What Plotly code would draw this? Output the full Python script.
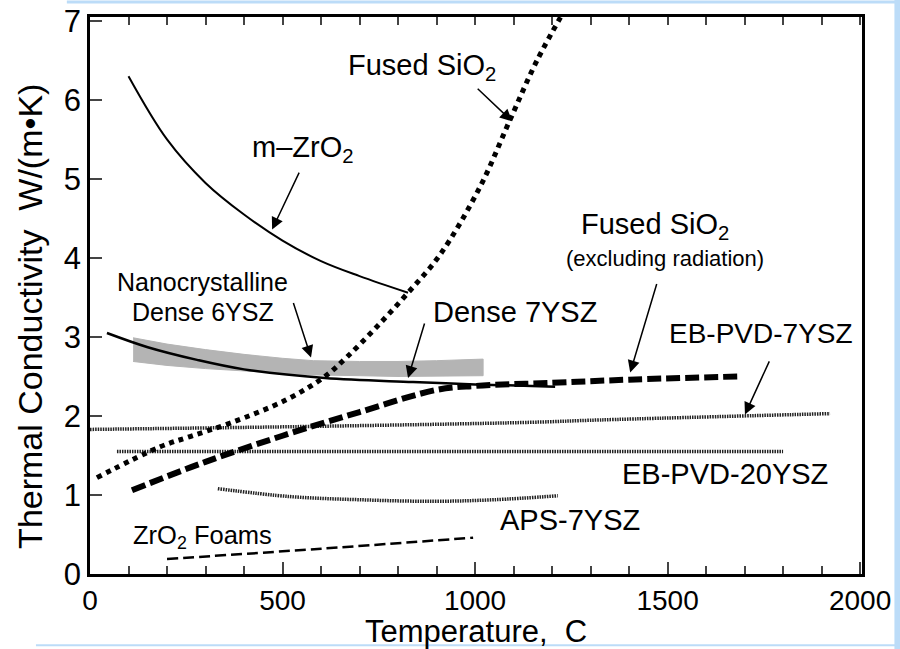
import plotly.graph_objects as go

# ---------------- data ----------------
mzro2_T = [100, 200, 300, 400, 500, 600, 700, 826]
mzro2_k = [6.30, 5.50, 4.95, 4.55, 4.22, 3.96, 3.77, 3.56]

sio2_T = [18, 182, 260, 364, 512, 610, 668, 745, 826, 909, 1013, 1091, 1161, 1240]
sio2_k = [1.22, 1.61, 1.74, 1.91, 2.21, 2.50, 2.75, 3.13, 3.56, 4.04, 4.90, 5.75, 6.50, 7.20]

sio2_norad_T = [109, 300, 500, 700, 900, 1000, 1200, 1400, 1683]
sio2_norad_k = [1.06, 1.42, 1.75, 2.05, 2.33, 2.38, 2.42, 2.46, 2.50]

dense7_T = [44, 150, 278, 400, 610, 839, 1000, 1208]
dense7_k = [3.05, 2.87, 2.71, 2.59, 2.48, 2.43, 2.40, 2.37]

nano_T = [112, 200, 300, 400, 500, 580, 700, 800, 900, 1021]
nano_hi = [2.99, 2.91, 2.84, 2.78, 2.73, 2.70, 2.69, 2.69, 2.70, 2.72]
nano_lo = [2.69, 2.64, 2.60, 2.57, 2.54, 2.52, 2.51, 2.50, 2.50, 2.51]

ebpvd7_T = [0, 600, 1143, 1325, 1922]
ebpvd7_k = [1.83, 1.87, 1.92, 1.95, 2.03]

ebpvd20_T = [70, 1800]
ebpvd20_k = [1.55, 1.55]

aps_T = [332, 519, 700, 891, 1050, 1215]
aps_k = [1.08, 0.98, 0.94, 0.92, 0.94, 0.99]

foam_T = [200, 600, 995]
foam_k = [0.19, 0.32, 0.46]

x_ticks = [0, 500, 1000, 1500, 2000]
y_ticks = [0, 1, 2, 3, 4, 5, 6, 7]

FONT = "Liberation Sans, Arial, Helvetica, sans-serif"

fig = go.Figure()

# Nanocrystalline band
fig.add_trace(go.Scatter(
    x=nano_T + nano_T[::-1], y=nano_hi + nano_lo[::-1],
    fill="toself", fillcolor="#b4b4b4", line=dict(color="#b4b4b4", width=1),
    mode="lines", showlegend=False, hoverinfo="skip"))

fine = dict(color="#222", width=3.5, dash="1.5px,1px")
fig.add_trace(go.Scatter(x=ebpvd7_T, y=ebpvd7_k, mode="lines",
    line=dict(fine, shape="spline"), showlegend=False))
fig.add_trace(go.Scatter(x=ebpvd20_T, y=ebpvd20_k, mode="lines",
    line=fine, showlegend=False))
fig.add_trace(go.Scatter(x=aps_T, y=aps_k, mode="lines",
    line=dict(fine, shape="spline"), showlegend=False))
fig.add_trace(go.Scatter(x=foam_T, y=foam_k, mode="lines",
    line=dict(color="black", width=2.5, dash="11px,5px", shape="spline"), showlegend=False))

fig.add_trace(go.Scatter(x=dense7_T, y=dense7_k, mode="lines",
    line=dict(color="black", width=2.5, shape="spline"), showlegend=False))
fig.add_trace(go.Scatter(x=mzro2_T, y=mzro2_k, mode="lines",
    line=dict(color="black", width=2, shape="spline"), showlegend=False))
fig.add_trace(go.Scatter(x=sio2_norad_T, y=sio2_norad_k, mode="lines",
    line=dict(color="black", width=6, dash="14px,5px", shape="spline"), showlegend=False))
fig.add_trace(go.Scatter(x=sio2_T, y=sio2_k, mode="lines",
    line=dict(color="black", width=5, dash="5px,5px", shape="spline"), showlegend=False))

# top axis with minor ticks (overlay)
fig.add_trace(go.Scatter(x=[0], y=[0], xaxis="x2", mode="markers",
    marker=dict(opacity=0), showlegend=False, hoverinfo="skip"))

XR = [0, 2005]
YR = [0, 7.05]

fig.update_layout(
    width=900, height=649,
    margin=dict(l=90, r=38, t=17, b=75, autoexpand=False),
    paper_bgcolor="white", plot_bgcolor="white",
    font=dict(family=FONT, color="black"),
    xaxis=dict(range=XR, showgrid=False, zeroline=False, showline=True, linecolor="black",
               linewidth=2.5, mirror=True, ticks="inside", ticklen=12, tickwidth=2,
               tickvals=x_ticks, tickfont=dict(size=28, family=FONT), automargin=False,
               minor=dict(ticks="inside", ticklen=8, tickwidth=2, dtick=100, tick0=0)),
    xaxis2=dict(range=XR, overlaying="x", side="top", showgrid=False, zeroline=False,
                showline=False, ticks="inside", ticklen=8, tickwidth=2, dtick=100, tick0=0,
                showticklabels=False, automargin=False),
    yaxis=dict(range=YR, showgrid=False, zeroline=False, showline=True, linecolor="black",
               linewidth=2.5, mirror=True, ticks="inside", ticklen=12, tickwidth=2,
               tickvals=y_ticks, tickfont=dict(size=31, family=FONT), automargin=False),
)

# axis titles (placed as in the reference)
fig.add_annotation(text="Thermal Conductivity  W/(m•K)", textangle=-90, showarrow=False,
                   xref="paper", yref="paper", x=-0.078, y=0.463,
                   xanchor="center", yanchor="middle",
                   font=dict(size=34, family=FONT, color="black"))
fig.add_annotation(text="Temperature,  C", showarrow=False,
                   xref="paper", yref="paper", x=0.5, y=-0.103,
                   xanchor="center", yanchor="middle",
                   font=dict(size=31, family=FONT, color="black"))

# light blue frame of the original slide
frame = "#bcdcf8"
fig.add_shape(type="line", xref="paper", yref="paper", x0=-0.03, x1=1.06, y0=1.027, y1=1.027,
              line=dict(color=frame, width=3))
fig.add_shape(type="rect", xref="paper", yref="paper", x0=1.042, x1=1.06, y0=-0.14, y1=1.05,
              line=dict(width=0), fillcolor=frame)
fig.add_shape(type="line", xref="paper", yref="paper", x0=-0.07, x1=1.06, y0=-0.128, y1=-0.128,
              line=dict(color=frame, width=2))

def label(x, y, text, size=29):
    fig.add_annotation(x=x, y=y, text=text, showarrow=False, xref="x", yref="y",
                       font=dict(size=size, family=FONT, color="black"))

def arrow(x0, y0, x1, y1):
    fig.add_annotation(x=x1, y=y1, ax=x0, ay=y0, xref="x", yref="y", axref="x", ayref="y",
                       text="", showarrow=True, arrowhead=2, arrowsize=1.6, arrowwidth=1.5,
                       arrowcolor="black")

label(862, 6.42, "Fused SiO<sub>2</sub>")
arrow(1003, 6.16, 1096, 5.73)
label(553, 5.38, "m–ZrO<sub>2</sub>")
arrow(545, 5.10, 473, 4.36)
label(293, 3.69, "Nanocrystalline", 25)
label(293, 3.32, "Dense 6YSZ", 25)
arrow(527, 3.45, 574, 2.74)
label(1104, 3.31, "Dense 7YSZ")
arrow(870, 3.19, 826, 2.48)
label(1468, 4.41, "Fused SiO<sub>2</sub>")
label(1494, 3.99, "(excluding radiation)", 22)
arrow(1473, 3.69, 1403, 2.55)
label(1743, 3.05, "EB-PVD-7YSZ", 28)
arrow(1766, 2.71, 1701, 2.02)
label(1649, 1.27, "EB-PVD-20YSZ")
label(1247, 0.68, "APS-7YSZ")
label(291, 0.47, "ZrO<sub>2</sub> Foams", 25.5)

fig.write_html("out.html")
